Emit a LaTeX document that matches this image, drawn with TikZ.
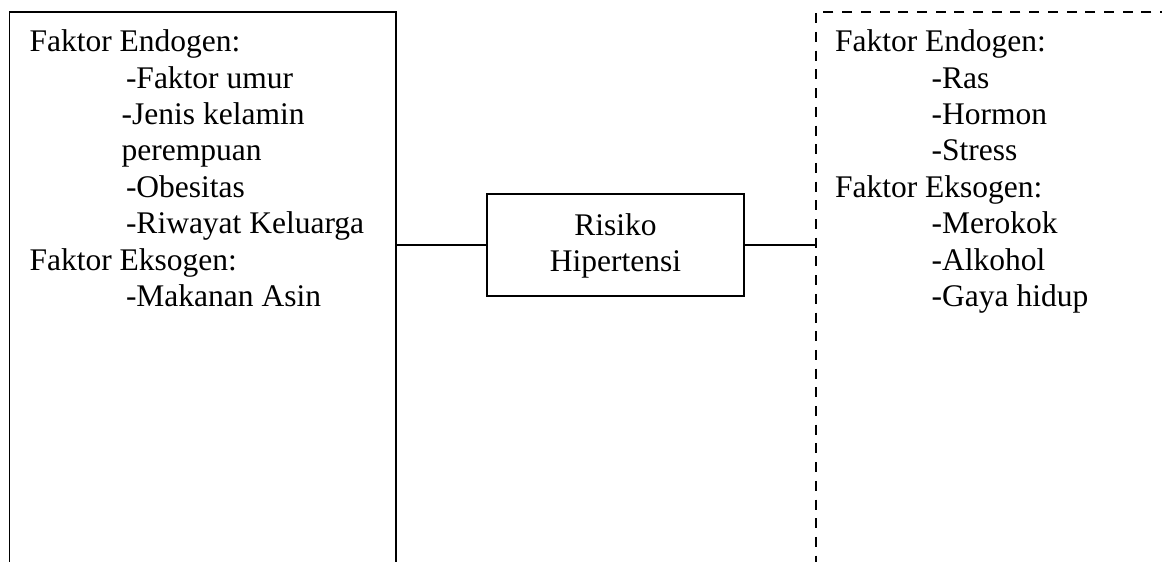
\documentclass[tikz,border=0pt]{standalone}
\usepackage{fontspec}
\setmainfont{Liberation Serif}
\begin{document}
\begin{tikzpicture}[x=1pt,y=-1pt,
  txt/.style={anchor=base west,inner sep=0pt,outer sep=0pt,font=\fontsize{31.5}{36.4}\selectfont},
  ctxt/.style={anchor=base,inner sep=0pt,outer sep=0pt,font=\fontsize{31.5}{36.4}\selectfont},
  solidbox/.style={draw,line width=1.5pt,inner sep=0pt,outer sep=0pt,rectangle},
  dashbox/.style={draw,line width=2pt,dash pattern=on 10pt off 8.7pt,inner sep=0pt,outer sep=0pt,rectangle},
  conn/.style={line width=1.5pt}]
\useasboundingbox (0,0) rectangle (1162,562);
\clip (0,0) rectangle (1162,562);
% boxes
\node[solidbox,minimum width=386.5pt,minimum height=608pt] (left) at (202.75,316) {};
\node[dashbox,minimum width=434pt,minimum height=608pt] (right) at (1033,316) {};
\node[solidbox,minimum width=257pt,minimum height=102pt] (risk) at (615.5,245) {};
\node[ctxt] (risk1) at (615.5,235) {Risiko};
\node[ctxt] (risk2) at (615.5,271) {Hipertensi};
% connectors
\draw[conn] (risk.west) -- (risk.west -| left.east);
\draw[conn] (risk.east) -- (risk.east -| right.west);
% left text
\node[txt] (l1) at (29.5,51.7) {Faktor Endogen:};
\node[txt] (l2) at (126,88.1) {-Faktor umur};
\node[txt] (l3) at (121.7,124.5) {-Jenis kelamin};
\node[txt] (l4) at (121.7,160.9) {perempuan};
\node[txt] (l5) at (126,197.3) {-Obesitas};
\node[txt] (l6) at (126,233.7) {-Riwayat Keluarga};
\node[txt] (l7) at (29.5,270.1) {Faktor Eksogen:};
\node[txt] (l8) at (126,306.5) {-Makanan Asin};
% right text
\node[txt] (r1) at (835,51.7) {Faktor Endogen:};
\node[txt] (r2) at (931.7,88.1) {-Ras};
\node[txt] (r3) at (931.7,124.5) {-Hormon};
\node[txt] (r4) at (931.7,160.9) {-Stress};
\node[txt] (r5) at (835,197.3) {Faktor Eksogen:};
\node[txt] (r6) at (931.7,233.7) {-Merokok};
\node[txt] (r7) at (931.7,270.1) {-Alkohol};
\node[txt] (r8) at (931.7,306.5) {-Gaya hidup};
\end{tikzpicture}
\end{document}
